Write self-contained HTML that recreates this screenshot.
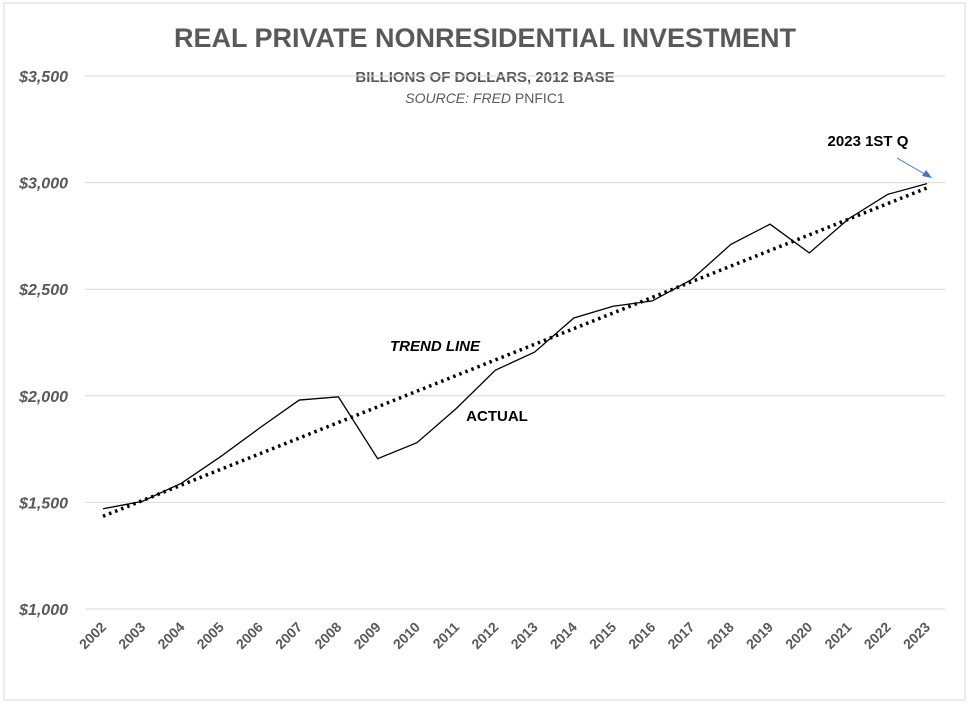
<!DOCTYPE html>
<html><head><style>
body{margin:0;background:#fff;font-family:"Liberation Sans",sans-serif;}
</style></head><body>
<svg width="970" height="706" id="c">
<rect x="4" y="3" width="961" height="697" fill="#fff" stroke="#d9d9d9"/>
<text x="485" y="47" text-anchor="middle" font-size="27" font-weight="bold" fill="#595959">REAL PRIVATE NONRESIDENTIAL INVESTMENT</text>
<text x="485" y="82" text-anchor="middle" font-size="15" font-weight="bold" fill="#595959">BILLIONS OF DOLLARS, 2012 BASE</text>
<text x="485" y="103" text-anchor="middle" font-size="14" fill="#595959"><tspan font-style="italic">SOURCE: FRED</tspan> PNFIC1</text>
<g id="grid"></g><g id="xl"></g>
<path id="trend" fill="none" stroke="#000" stroke-width="3.5" stroke-dasharray="2.5 4"/>
<path id="actual" fill="none" stroke="#000" stroke-width="1.3"/>
<text x="435" y="351" text-anchor="middle" font-size="15" font-weight="bold" font-style="italic" fill="#000">TREND LINE</text>
<text x="497" y="421" text-anchor="middle" font-size="15" font-weight="bold" fill="#000">ACTUAL</text>
<text x="868" y="146" text-anchor="middle" font-size="15" font-weight="bold" fill="#000">2023 1ST Q</text>
<line x1="897" y1="158" x2="928" y2="176" stroke="#4472c4" stroke-width="1"/>
<polygon points="932,178 922,176 926,170" fill="#4472c4"/>
</svg>
<script>
const years=["2002","2003","2004","2005","2006","2007","2008","2009","2010","2011","2012","2013","2014","2015","2016","2017","2018","2019","2020","2021","2022","2023"];
const actual=[1470,1505,1590,1715,1850,1980,1995,1705,1780,1940,2120,2205,2365,2420,2445,2545,2710,2805,2670,2830,2945,2995];
const trendEnds=[1435,2975];
const yTicks=[1000,1500,2000,2500,3000,3500];
const yLabels=["$1,000","$1,500","$2,000","$2,500","$3,000","$3,500"];
const NS="http://www.w3.org/2000/svg";
const X=i=>103+i*(927-103)/(years.length-1);
const Y=v=>609-(v-1000)*(533/2500);
const g=document.getElementById('grid'),xl=document.getElementById('xl');
yTicks.forEach((t,i)=>{
 const l=document.createElementNS(NS,'line');
 l.setAttribute('x1',85);l.setAttribute('x2',945);l.setAttribute('y1',Y(t));l.setAttribute('y2',Y(t));
 l.setAttribute('stroke','#d9d9d9');
 
 
 g.appendChild(l);
 const tx=document.createElementNS(NS,'text');
 tx.setAttribute('x',68);tx.setAttribute('y',Y(t)+6);tx.setAttribute('text-anchor','end');
 tx.setAttribute('font-size','16');tx.setAttribute('font-weight','bold');tx.setAttribute('font-style','italic');tx.setAttribute('fill','#595959');
 tx.textContent=yLabels[i];
 
 
 g.appendChild(tx);
});
years.forEach((yr,i)=>{
 const tx=document.createElementNS(NS,'text');
 const x=X(i)+4,y=628;
 tx.setAttribute('x',x);tx.setAttribute('y',y);tx.setAttribute('text-anchor','end');
 tx.setAttribute('transform',`rotate(-45 ${x} ${y})`);
 tx.setAttribute('font-size','14');tx.setAttribute('font-weight','bold');tx.setAttribute('fill','#595959');
 tx.textContent=yr;
 
 
 xl.appendChild(tx);
});
document.getElementById('actual').setAttribute('d',actual.map((v,i)=>(i?'L':'M')+X(i)+','+Y(v)).join(''));
document.getElementById('trend').setAttribute('d',`M${X(0)},${Y(trendEnds[0])}L${X(years.length-1)},${Y(trendEnds[1])}`);
</script>
</body></html>
